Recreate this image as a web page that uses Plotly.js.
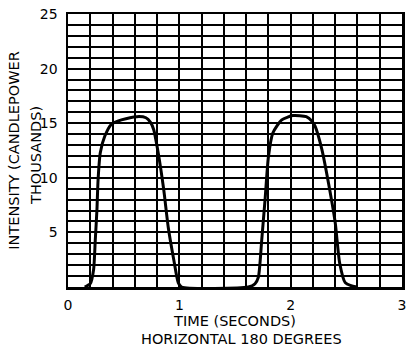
<!DOCTYPE html>
<html>
<head>
<meta charset="utf-8">
<script src="https://cdn.plot.ly/plotly-3.0.1.min.js"></script>
<style>html,body{margin:0;padding:0;background:#fff;}#chart{width:406px;height:353px;}</style>
</head>
<body>
<div id="chart"></div>
<script>
// Time in seconds
const time = [0.15, 0.20, 0.23, 0.245, 0.26, 0.27, 0.29, 0.33, 0.39, 0.48, 0.62, 0.70, 0.74, 0.77, 0.81, 0.86, 0.90, 0.95, 0.99, 1.02,
              1.62, 1.68, 1.71, 1.74, 1.77, 1.80, 1.84, 1.92, 2.02, 2.14, 2.19, 2.22, 2.28, 2.34, 2.40, 2.44, 2.49, 2.55, 2.60];
// Intensity in thousands of candlepower
const intensity = [0, 0.3, 1.6, 4.3, 7.1, 9.8, 12.3, 13.8, 14.9, 15.3, 15.6, 15.5, 15.1, 14.4, 12.3, 8.9, 5.5, 2.5, 0.4, 0,
                   0, 0.3, 0.9, 4.3, 8.0, 11.9, 14.1, 15.3, 15.7, 15.6, 15.2, 14.7, 12.6, 9.5, 5.9, 2.2, 0.4, 0.1, 0];
const yTickVals = [0, 5, 10, 15, 20, 25];
const yTickText = ['', '5', '10', '15', '20', '25'];
const xTickVals = [0, 1, 2, 3];
const xTickText = ['0', '1', '2', '3'];

const tickFont = {family: 'DejaVu Sans, sans-serif', size: 14, color: '#000'};
const titleFont = {family: 'DejaVu Sans, sans-serif', size: 14.5, color: '#000'};

Plotly.newPlot('chart', [{
  x: time, y: intensity, type: 'scatter', mode: 'lines',
  line: {color: '#000', width: 3, shape: 'spline', smoothing: 0.6},
  hoverinfo: 'skip', showlegend: false
}], {
  width: 406, height: 353,
  margin: {l: 68, r: 4, t: 14, b: 66},
  paper_bgcolor: '#fff', plot_bgcolor: '#fff',
  font: tickFont,
  xaxis: {
    range: [0, 3], tickmode: 'array', tickvals: xTickVals, ticktext: xTickText,
    showgrid: true, gridcolor: '#000', gridwidth: 2,
    minor: {dtick: 0.2, tick0: 0, showgrid: true, gridcolor: '#000', gridwidth: 2},
    showline: true, mirror: true, linecolor: '#000', linewidth: 2.5,
    zeroline: false, ticks: '', ticklabelstandoff: 4, ticklabeloverflow: 'allow',
    tickfont: tickFont,
    title: {text: 'TIME (SECONDS)', font: titleFont, standoff: 4}
  },
  yaxis: {
    range: [0, 25], tickmode: 'array', tickvals: yTickVals, ticktext: yTickText,
    showgrid: true, gridcolor: '#000', gridwidth: 2,
    minor: {dtick: 1, tick0: 0, showgrid: true, gridcolor: '#000', gridwidth: 2},
    showline: true, mirror: true, linecolor: '#000', linewidth: 2.5,
    zeroline: false, ticks: '', ticklabelstandoff: 5,
    tickfont: tickFont,
    title: {text: 'INTENSITY (CANDLEPOWER', font: titleFont, standoff: 17}
  },
  annotations: [{
    text: 'THOUSANDS)', xref: 'paper', yref: 'paper',
    x: 0, y: 0.48, xshift: -32, xanchor: 'center', yanchor: 'middle',
    textangle: -90, showarrow: false, font: titleFont
  }, {
    text: 'HORIZONTAL 180 DEGREES', xref: 'paper', yref: 'paper',
    x: 0.52, y: 0, yshift: -52, xanchor: 'center', yanchor: 'middle',
    showarrow: false, font: titleFont
  }]
}, {staticPlot: true});
</script>
</body>
</html>
